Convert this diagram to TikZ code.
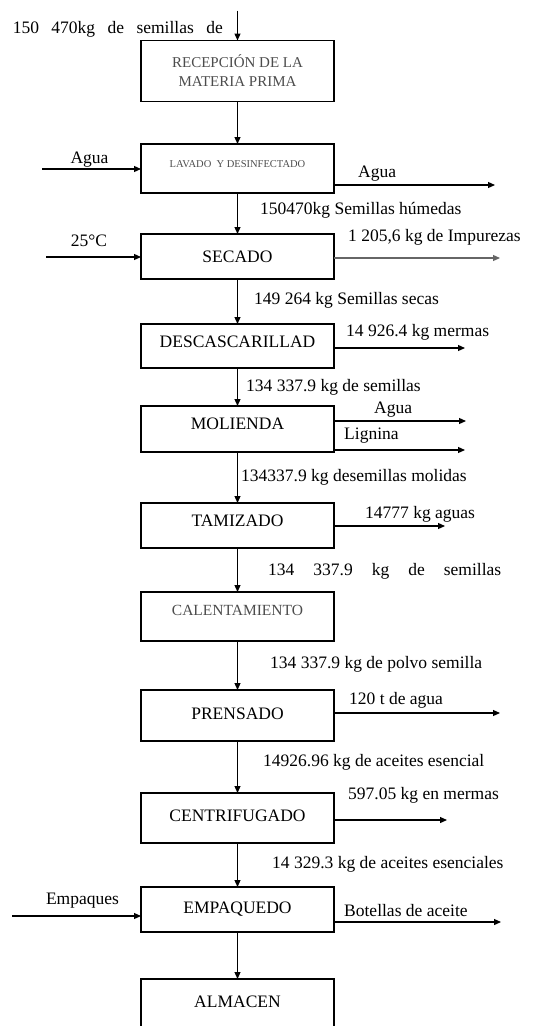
\documentclass[tikz,border=0pt]{standalone}
\usepackage{fontspec}
\setmainfont{Liberation Serif}
\usetikzlibrary{arrows.meta, positioning}

\begin{document}
\begin{tikzpicture}[
    x=1pt, y=-1pt,
    box/.style={draw, line width=1.5pt, outer sep=0pt, minimum width=193pt, minimum height=#1, inner sep=0pt, align=center, font=\fontsize{17.5}{21}\selectfont},
    lbl/.style={inner sep=0pt, font=\fontsize{17.5}{21}\selectfont},
    arr/.style={-{Triangle[length=7pt, width=6pt]}, line width=1.2pt},
  ]
    \useasboundingbox (0,0) rectangle (559,1026);
    \clip (0,0) rectangle (559,1026);

    \node[box=61pt, text=black!70, font=\fontsize{15}{19}\selectfont] (recep) at (237.5,71) {RECEPCIÓN DE LA\\MATERIA PRIMA};
    \node[box=49pt, below=42.5pt of recep, text=black!70, font=\fontsize{10.5}{12}\selectfont, text depth=8pt] (lavado) {LAVADO\ \ Y DESINFECTADO};
    \node[box=45pt, below=41pt of lavado] (secado) {SECADO};
    \node[box=44pt, below=45pt of secado, text depth=8pt] (descas) {DESCASCARILLAD};
    \node[box=46pt, below=38pt of descas, text depth=10pt] (molienda) {MOLIENDA};
    \node[box=45pt, below=51pt of molienda, text depth=10pt] (tamizado) {TAMIZADO};
    \node[box=49pt, below=44pt of tamizado, text=black!70, font=\fontsize{15.5}{18}\selectfont, text depth=12pt] (calent) {CALENTAMIENTO};
    \node[box=51pt, below=49pt of calent, text depth=4pt] (prensado) {PRENSADO};
    \node[box=50pt, below=52pt of prensado, text depth=4pt] (centrif) {CENTRIFUGADO};
    \node[box=45pt, below=44pt of centrif] (empaq) {EMPAQUEDO};
    \node[box=62pt, below=47pt of empaq, text depth=16pt] (almacen) {ALMACEN};

    % main line
    \coordinate (seedIn) at (237.5,10.5);
    \draw[arr] (seedIn) -- (recep);
    \draw[arr] (recep) -- (lavado);
    \draw[arr] (lavado) -- (secado);
    \draw[arr] (secado) -- (descas);
    \draw[arr] (descas) -- (molienda);
    \draw[arr] (molienda) -- (tamizado);
    \draw[arr] (tamizado) -- (calent);
    \draw[arr] (calent) -- (prensado);
    \draw[arr] (prensado) -- (centrif);
    \draw[arr] (centrif) -- (empaq);
    \draw[arr] (empaq) -- (almacen);

    \node[lbl, anchor=south east] (seedLbl) at (223,37) {\spaceskip=12.4pt 150 470kg de semillas de};
    \node[lbl, anchor=west] (humLbl) at (260,210.5) {150470kg Semillas húmedas};
    \node[lbl, anchor=west] (secLbl) at (254,300) {149 264 kg Semillas secas};
    \node[lbl, anchor=west] (semLbl) at (246,387.5) {134 337.9 kg de semillas};
    \node[lbl, anchor=west] (molLbl) at (241,477.5) {134337.9 kg desemillas molidas};
    \node[lbl, anchor=west] (tamLbl) at (268,571.5) {\spaceskip=19pt 134 337.9 kg de semillas};
    \node[lbl, anchor=west] (polLbl) at (270,664.5) {134 337.9 kg de polvo semilla};
    \node[lbl, anchor=west] (aceLbl) at (263,762.5) {14926.96 kg de aceites esencial};
    \node[lbl, anchor=west] (escLbl) at (272,864.5) {14 329.3 kg de aceites esenciales};

    % entradas
    \coordinate (aguaIn) at (42,169);
    \coordinate (calorIn) at (46,257);
    \coordinate (empIn) at (12,916);
    \draw[arr] (aguaIn) -- (aguaIn -| lavado.west);
    \draw[arr] (calorIn) -- (calorIn -| secado.west);
    \draw[arr] (empIn) -- (empIn -| empaq.west);
    \node[lbl, anchor=south] (aguaInLbl) at (89.5,167) {Agua};
    \node[lbl, anchor=south] (calorLbl) at (89,247) {25°C};
    \node[lbl, anchor=south] (empInLbl) at (82.5,908) {Empaques};

    % salidas
    \coordinate (aguaOut) at (495,185);
    \coordinate (impOut) at (500,258);
    \coordinate (mermaOut) at (465,348);
    \coordinate (aguaMol) at (466,421);
    \coordinate (ligOut) at (465,450);
    \coordinate (aguasOut) at (445,526);
    \coordinate (aguaPren) at (500,713);
    \coordinate (mermaCen) at (447,820);
    \coordinate (botOut) at (501,922);
    \draw[arr] (lavado.east |- aguaOut) -- (aguaOut);
    \draw[arr, black!60] (secado.east |- impOut) -- (impOut);
    \draw[arr] (descas.east |- mermaOut) -- (mermaOut);
    \draw[arr] (molienda.east |- aguaMol) -- (aguaMol);
    \draw[arr] (molienda.east |- ligOut) -- (ligOut);
    \draw[arr] (tamizado.east |- aguasOut) -- (aguasOut);
    \draw[arr] (prensado.east |- aguaPren) -- (aguaPren);
    \draw[arr] (centrif.east |- mermaCen) -- (mermaCen);
    \draw[arr] (empaq.east |- botOut) -- (botOut);
    \node[lbl, anchor=south west] (aguaOutLbl) at (358,181) {Agua};
    \node[lbl, anchor=south west] (impLbl) at (348,245) {1 205,6 kg de Impurezas};
    \node[lbl, anchor=south west] (mermaLbl) at (346,340) {14 926.4 kg mermas};
    \node[lbl, anchor=south west] (aguaMolLbl) at (374,417) {Agua};
    \node[lbl, anchor=south west] (ligLbl) at (344,443) {Lignina};
    \node[lbl, anchor=south west] (aguasLbl) at (365,522) {14777 kg aguas};
    \node[lbl, anchor=south west] (prenLbl) at (349,708) {120 t de agua};
    \node[lbl, anchor=south west] (mermaCenLbl) at (348,803) {597.05 kg en mermas};
    \node[lbl, anchor=south west] (botLbl) at (344,917) {Botellas de aceite};
  \end{tikzpicture}
\end{document}
